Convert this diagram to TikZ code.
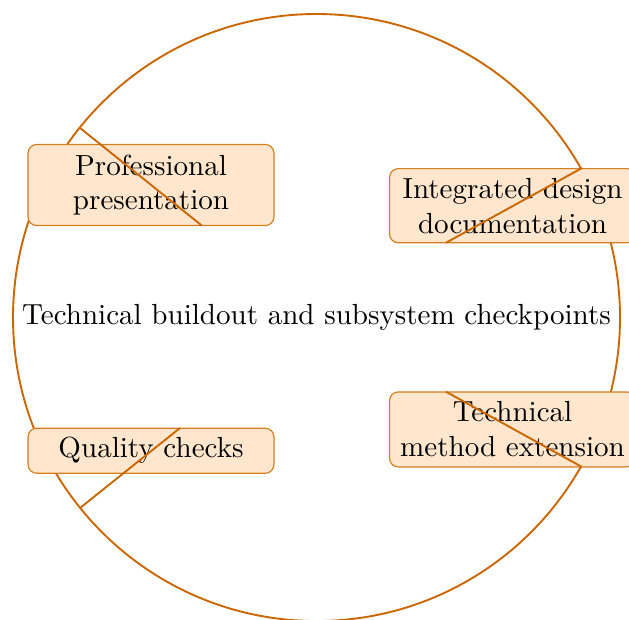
\documentclass[tikz,border=0pt]{standalone}
\usetikzlibrary{calc}
\definecolor{lineor}{RGB}{204,102,0}
\definecolor{boxor}{RGB}{214,125,30}
\definecolor{fillor}{RGB}{255,230,204}
\begin{document}
\begin{tikzpicture}[x=0.344pt,y=-0.344pt,
  ring/.style={draw=lineor,line width=0.65pt},
  link/.style={draw=lineor,line width=0.65pt},
  stepbox/.style={draw=boxor,fill=fillor,line width=0.4pt,rounded corners=3pt,
    minimum width=84.6pt,inner sep=0pt,align=center,font=\normalsize}]
\useasboundingbox (0,0) rectangle (629,619);
\begin{scope}
\clip (0,0) rectangle (629,619);
\draw[ring] (316.5,317.5) circle [radius=303.5];
\node (center) at (316.5,317) {Technical buildout and subsystem checkpoints};
\node[stepbox,minimum height=27.9pt] (b1) at (151,185) {Professional\\presentation};
\node[stepbox,minimum height=25.5pt] (b2) at (512.5,205.7) {Integrated design\\documentation};
\node[stepbox,minimum height=25.8pt] (b3) at (512.5,429.4) {Technical\\method extension};
\node[stepbox,minimum height=15.5pt] (b4) at (151,450.7) {Quality checks};
\coordinate (p1) at (80,128);
\coordinate (q1) at (202,225.7);
\coordinate (p2) at (582,168);
\coordinate (q2) at (446,242.7);
\coordinate (p3) at (582,467);
\coordinate (q3) at (446,391.7);
\coordinate (p4) at (80,508);
\coordinate (q4) at (180,428);
\draw[link] (p1) -- (q1);
\draw[link] (p2) -- (q2);
\draw[link] (p3) -- (q3);
\draw[link] (p4) -- (q4);
\end{scope}
\end{tikzpicture}
\end{document}
